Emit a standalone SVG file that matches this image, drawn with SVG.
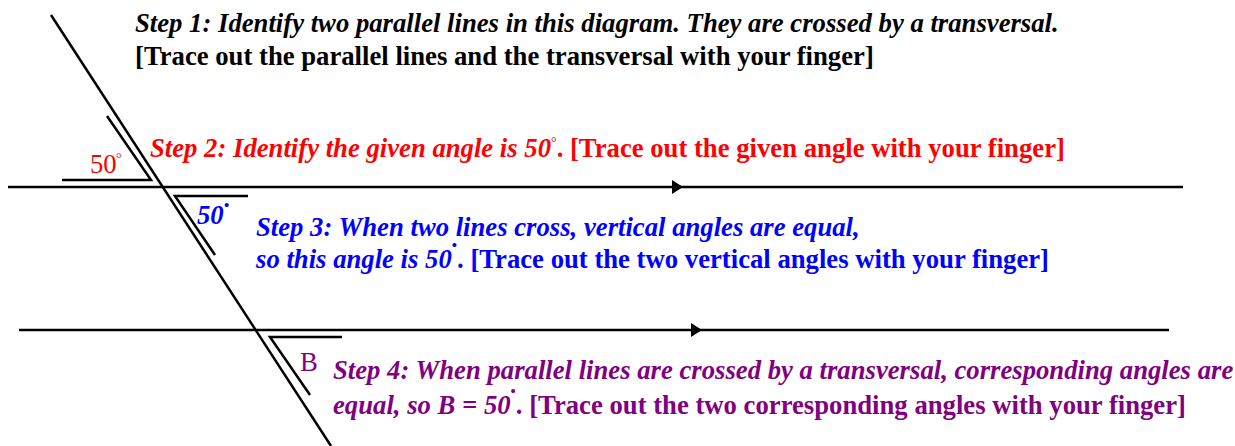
<svg xmlns="http://www.w3.org/2000/svg" width="1235" height="446" viewBox="0 0 1235 446">
<style>
.t{font-family:"Liberation Serif","Times New Roman",serif;font-size:26.7px;font-weight:bold}
.i{font-style:italic}
.n{font-weight:normal;font-style:normal}
.ln{stroke:#000;stroke-width:2.5;fill:none}
.red{fill:#ff0000}.blue{fill:#0000ff}.pur{fill:#800080}
.sup{font-size:14px}
.dot{font-size:15px;font-style:normal}
</style>
<defs>
<marker id="arr" markerWidth="12" markerHeight="16" refX="11" refY="8" orient="auto" markerUnits="userSpaceOnUse">
<path d="M0,1 L11,8 L0,15 Z" fill="#000"/>
</marker>
</defs>
<g id="connectors">
<line class="ln" x1="51" y1="15" x2="331" y2="446"/>
<line class="ln" x1="8" y1="187" x2="683" y2="187" marker-end="url(#arr)"/>
<line class="ln" x1="683" y1="187" x2="1183" y2="187"/>
<line class="ln" x1="19" y1="330" x2="702" y2="330" marker-end="url(#arr)"/>
<line class="ln" x1="702" y1="330" x2="1169" y2="330"/>
</g>
<g id="angle-given">
<polyline class="ln" points="62,180 151,180 107,116"/>
<text class="t n red" x="90" y="173">50</text>
<text class="t n red sup" x="116" y="163">°</text>
</g>
<g id="angle-vertical">
<polyline class="ln" points="248,196 175,196 215,255"/>
<text class="t i blue" x="197" y="224">50</text>
<text class="t blue dot" x="224" y="210">•</text>
</g>
<g id="angle-B">
<polyline class="ln" points="342,337 270,337 310,395"/>
<text class="t n pur" x="300" y="371">B</text>
</g>
<g id="step1">
<text class="t i" x="135" y="32">Step 1: Identify two parallel lines in this diagram. They are crossed by a transversal.</text>
<text class="t" x="135" y="65">[Trace out the parallel lines and the transversal with your finger]</text>
</g>
<g id="step2">
<text class="t red" x="150" y="157"><tspan class="i">Step 2: Identify the given angle is 50</tspan><tspan class="n sup" dy="-10">°</tspan><tspan dy="10">. [Trace out the given angle with your finger]</tspan></text>
</g>
<g id="step3">
<text class="t i blue" x="256" y="236">Step 3: When two lines cross, vertical angles are equal,</text>
<text class="t blue" x="256" y="268"><tspan class="i">so this angle is 50</tspan><tspan class="dot" dy="-18">•</tspan><tspan dy="18">. [Trace out the two vertical angles with your finger]</tspan></text>
</g>
<g id="step4">
<text class="t i pur" x="333" y="379">Step 4: When parallel lines are crossed by a transversal, corresponding angles are</text>
<text class="t pur" x="333" y="414"><tspan class="i">equal, so B = 50</tspan><tspan class="dot" dy="-18">•</tspan><tspan dy="18">. [Trace out the two corresponding angles with your finger]</tspan></text>
</g>
</svg>
